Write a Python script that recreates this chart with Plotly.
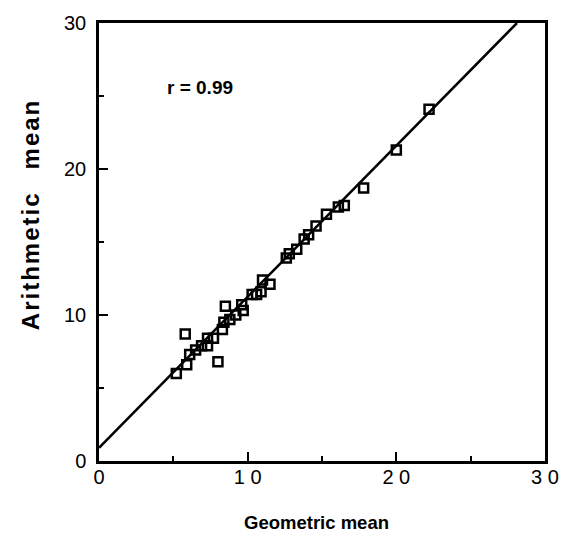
import plotly.graph_objects as go

# Geometric mean (x) vs Arithmetic mean (y)
geo_mean = [22.2, 20.0, 17.8, 16.5, 16.1, 15.3, 14.6, 14.1, 13.8, 13.3, 12.8, 12.6,
            11.5, 11.0, 10.9, 10.6, 10.3, 9.7, 9.6, 9.2, 8.8, 8.5, 8.4, 8.3,
            8.0, 7.7, 7.3, 7.3, 6.9, 6.5, 6.1, 5.8, 5.9, 5.2]
arith_mean = [24.1, 21.3, 18.7, 17.5, 17.4, 16.9, 16.1, 15.5, 15.2, 14.5, 14.2, 13.9,
              12.1, 12.4, 11.6, 11.4, 11.4, 10.3, 10.7, 10.0, 9.7, 10.6, 9.5, 9.0,
              6.8, 8.4, 8.4, 7.9, 7.9, 7.6, 7.3, 8.7, 6.6, 6.0]

INTERCEPT = 0.9
SLOPE = 1.035
r_label = "r = 0.99"

x_ticks = [0, 10, 20, 30]
x_ticktext = ["0", "1 0", "2 0", "3 0"]
y_ticks = [0, 10, 20, 30]
y_ticktext = ["0", "10", "20", "30"]

x_end = (30 - INTERCEPT) / SLOPE
line_x = [0, x_end]
line_y = [INTERCEPT + SLOPE * v for v in line_x]

fig = go.Figure()
fig.add_trace(go.Scatter(x=line_x, y=line_y, mode="lines",
                         line=dict(color="black", width=2.5), showlegend=False,
                         hoverinfo="skip"))
fig.add_trace(go.Scatter(x=geo_mean, y=arith_mean, mode="markers",
                         marker=dict(symbol="square-open", size=9, color="black",
                                     line=dict(width=2.5, color="black")),
                         showlegend=False))

font = "Liberation Sans, Arial, Helvetica, sans-serif"
axis_common = dict(showline=True, linecolor="black", linewidth=2.5, mirror=True,
                   ticks="inside", ticklen=9, tickwidth=2, tickcolor="black",
                   showgrid=False, zeroline=False,
                   tickfont=dict(family=font, size=20, color="black"),
                   minor=dict(ticks="inside", ticklen=5, tickwidth=2, tickcolor="black", dtick=5))

fig.update_xaxes(range=[0, 30], tickvals=x_ticks, ticktext=x_ticktext,
                 ticklabelstandoff=-4, **axis_common)
fig.update_yaxes(range=[0, 30], tickvals=y_ticks, ticktext=y_ticktext,
                 ticklabelstandoff=6, **axis_common)

hair = "\u200a"
y_title = hair.join("Arithmetic") + "\u2003" + hair.join("mean")

fig.add_annotation(x=0.487, y=-0.14, xref="paper", yref="paper", showarrow=False,
                   xanchor="center", yanchor="middle",
                   text="<b>Geometric mean</b>", font=dict(family=font, size=18.5, color="black"))
fig.add_annotation(x=-0.155, y=0.561, xref="paper", yref="paper", showarrow=False,
                   xanchor="center", yanchor="middle",
                   textangle=-90, text="<b>" + y_title + "</b>",
                   font=dict(family=font, size=24, color="black"))
fig.add_annotation(x=6.8, y=25.6, xref="x", yref="y", showarrow=False,
                   xanchor="center", yanchor="middle",
                   text="<b>" + r_label + "</b>", font=dict(family=font, size=19, color="black"))

fig.update_layout(width=571, height=536, margin=dict(l=99, r=26, t=17, b=75),
                  plot_bgcolor="white", paper_bgcolor="white")

fig.write_html("out.html", config={"displayModeBar": False},
               post_script="document.body.style.margin='0';")
